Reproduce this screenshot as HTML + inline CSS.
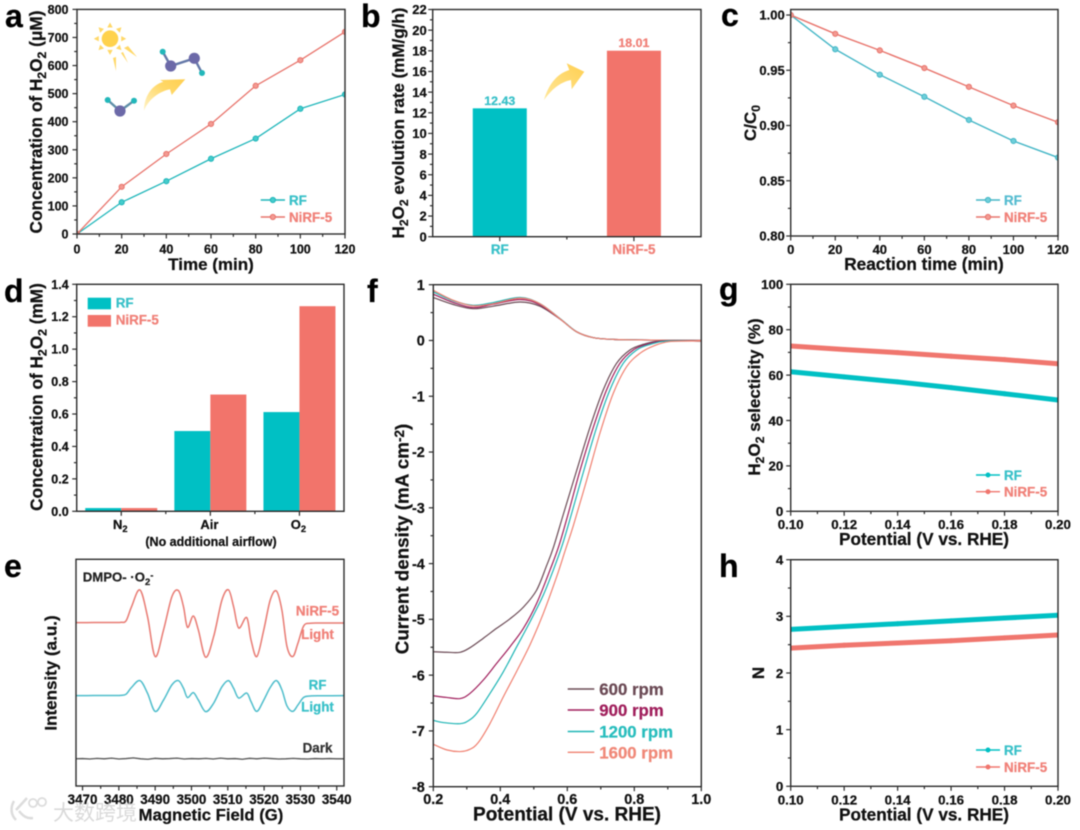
<!DOCTYPE html>
<html lang="en">
<head>
<meta charset="utf-8">
<title>H2O2 photocatalysis multi-panel figure</title>
<style>
html,body{margin:0;padding:0;background:#fff;width:1080px;height:830px;overflow:hidden}
svg{display:block;filter:blur(0.4px)}
text{font-family:"Liberation Sans","Noto Sans CJK SC",sans-serif;font-weight:700;white-space:pre}
</style>
</head>
<body>
<svg id="fig" xmlns="http://www.w3.org/2000/svg" width="1080" height="830" viewBox="0 0 1080 830">
  <defs>
    <linearGradient id="arrow-fade-a" x1="0" y1="1" x2="1" y2="0">
      <stop offset="0" stop-color="#FFF3C8"/><stop offset="0.6" stop-color="#FFD868"/><stop offset="1" stop-color="#FFCF50"/>
    </linearGradient>
    <linearGradient id="arrow-fade-b" x1="0" y1="1" x2="1" y2="0">
      <stop offset="0" stop-color="#FFE79A"/><stop offset="1" stop-color="#FFCF50"/>
    </linearGradient>
  </defs>
</svg>
<script>
/* ---------- panel a ---------- */
const timeMin = [0, 20, 40, 60, 80, 100, 120];
const aRF = [0, 113, 188, 268, 340, 446, 497];
const aNiRF = [0, 168, 285, 392, 528, 619, 720];
const aXTicks = [0, 20, 40, 60, 80, 100, 120];
const aYTicks = [0, 100, 200, 300, 400, 500, 600, 700, 800];
/* ---------- panel b ---------- */
const bCategories = ['RF', 'NiRF-5'];
const bValues = [12.43, 18.01];
const bYTicks = [0, 2, 4, 6, 8, 10, 12, 14, 16, 18, 20, 22];
/* ---------- panel c ---------- */
const cRF = [1, 0.969, 0.946, 0.926, 0.905, 0.886, 0.871];
const cNiRF = [1, 0.983, 0.968, 0.952, 0.935, 0.918, 0.903];
const cYTicks = [0.80, 0.85, 0.90, 0.95, 1.00];
/* ---------- panel d ---------- */
const dCategories = ['N', 'Air', 'O'];
const dRF = [0.02, 0.495, 0.612];
const dNiRF = [0.02, 0.72, 1.265];
const dYTicks = [0, 0.2, 0.4, 0.6, 0.8, 1.0, 1.2, 1.4];
/* ---------- panel e ---------- */
const eField = [3468.2, 3473, 3478, 3480.5, 3482, 3483.5, 3485.8, 3487.9, 3490, 3492.3, 3494.6, 3496.4, 3497.8, 3498.9, 3500.5, 3501.9, 3503.9, 3506.1, 3508.4, 3510.2, 3511.6, 3513, 3515.2, 3516.4, 3518, 3519.9, 3521.7, 3523.4, 3524.9, 3526.3, 3527.9, 3529.3, 3530.9, 3532.7, 3536, 3542];
const eNiRF = [72.06, 72.1, 72.1, 72.2, 72.9, 79.1, 86.5, 74.7, 57.1, 68.8, 83.5, 86.2, 79.1, 70, 75, 68.8, 56.8, 65.9, 82.1, 86.5, 79.1, 69.7, 74.3, 64.4, 57.1, 68.8, 82.1, 86, 77.6, 61.5, 57.1, 62.9, 70.6, 71.8, 71.9, 71.9];
const eRF = [39.85, 39.9, 39.9, 40, 40.5, 43.5, 46.5, 40.9, 32.9, 37.9, 44.6, 46.5, 43.1, 39, 41.2, 37.9, 32.8, 36.5, 43.8, 46.5, 43.1, 38.8, 41, 37.2, 32.9, 37.9, 43.5, 46.5, 42.4, 35.3, 32.9, 35.7, 39.1, 39.7, 39.8, 39.85];
const eDarkField = [3468, 3470, 3472, 3474, 3476, 3478, 3480, 3482, 3484, 3486, 3488, 3490, 3492, 3494, 3496, 3498, 3500, 3502, 3504, 3506, 3508, 3510, 3512, 3514, 3516, 3518, 3520, 3522, 3524, 3526, 3528, 3530, 3532, 3534, 3536, 3538, 3540, 3542];
const eDark = [12.0, 12.1, 11.9, 12.2, 12.0, 12.3, 11.9, 12.1, 12.4, 12.0, 11.8, 12.2, 12.0, 12.1, 12.3, 11.9, 12.1, 12.0, 12.2, 11.9, 12.3, 12.0, 12.1, 11.8, 12.2, 12.0, 12.3, 12.1, 11.9, 12.0, 12.2, 12.0, 11.9, 12.1, 12.0, 12.1, 12.0, 12.0];
const eXTicks = [3470, 3480, 3490, 3500, 3510, 3520, 3530, 3540];
/* ---------- panel f ---------- */
const fDiskV600 = [0.2, 0.24, 0.28, 0.309, 0.349, 0.389, 0.429, 0.469, 0.508, 0.538, 0.558, 0.588, 0.628, 0.668, 0.707, 0.747, 0.787, 0.827, 0.877, 1];
const fDisk600 = [-5.58, -5.59, -5.59, -5.51, -5.34, -5.16, -4.99, -4.78, -4.48, -4.04, -3.72, -3.12, -2.33, -1.55, -0.89, -0.41, -0.17, -0.07, -0.01, -0.01];
const fDiskV900 = [0.2, 0.24, 0.28, 0.309, 0.349, 0.389, 0.429, 0.469, 0.508, 0.548, 0.575, 0.603, 0.638, 0.678, 0.717, 0.757, 0.797, 0.837, 0.887, 1];
const fDisk900 = [-6.37, -6.40, -6.42, -6.33, -6.09, -5.79, -5.49, -5.16, -4.72, -4.12, -3.68, -3.10, -2.33, -1.55, -0.89, -0.41, -0.17, -0.07, -0.01, -0.01];
const fDiskV1200 = [0.2, 0.23, 0.28, 0.304, 0.329, 0.369, 0.409, 0.449, 0.489, 0.528, 0.558, 0.586, 0.613, 0.648, 0.688, 0.727, 0.767, 0.807, 0.847, 0.897, 1];
const fDisk1200 = [-6.81, -6.85, -6.87, -6.82, -6.69, -6.33, -5.94, -5.49, -5.04, -4.57, -4.12, -3.65, -3.10, -2.36, -1.55, -0.89, -0.41, -0.17, -0.07, -0.01, -0.01];
const fDiskV1600 = [0.2, 0.24, 0.28, 0.309, 0.334, 0.369, 0.409, 0.449, 0.489, 0.528, 0.568, 0.594, 0.618, 0.658, 0.698, 0.737, 0.777, 0.817, 0.857, 0.906, 1];
const fDisk1600 = [-7.24, -7.34, -7.37, -7.33, -7.21, -6.87, -6.39, -5.93, -5.45, -4.90, -4.24, -3.76, -3.32, -2.50, -1.65, -0.95, -0.47, -0.23, -0.10, -0.02, -0.01];
const fRingV = [0.2, 0.26, 0.319, 0.379, 0.459, 0.518, 0.578, 0.628, 0.678, 0.737, 0.82, 0.9, 1];
const fRing600 = [0.77, 0.645, 0.57, 0.615, 0.69, 0.615, 0.385, 0.155, 0.05, 0.02, 0.01, 0.004, 0];
const fRing900 = [0.83, 0.68, 0.59, 0.65, 0.735, 0.64, 0.39, 0.155, 0.05, 0.02, 0.01, 0.004, 0];
const fRing1200 = [0.87, 0.71, 0.63, 0.68, 0.77, 0.66, 0.395, 0.155, 0.05, 0.02, 0.01, 0.004, 0];
const fRing1600 = [0.90, 0.72, 0.62, 0.66, 0.76, 0.66, 0.39, 0.155, 0.05, 0.02, 0.01, 0.004, 0];
const fXTicks = [0.2, 0.4, 0.6, 0.8, 1.0];
const fYTicks = [-8, -7, -6, -5, -4, -3, -2, -1, 0, 1];
/* ---------- panels g, h ---------- */
const potential = [0.10, 0.12, 0.14, 0.16, 0.18, 0.20];
const gRF = [61.5, 59.2, 57, 54.5, 51.8, 49];
const gNiRF = [72.8, 71.3, 69.9, 68.3, 66.8, 65];
const hRF = [2.77, 2.82, 2.87, 2.92, 2.97, 3.02];
const hNiRF = [2.44, 2.49, 2.53, 2.57, 2.62, 2.67];
const ghXTicks = [0.10, 0.12, 0.14, 0.16, 0.18, 0.20];
const gYTicks = [0, 20, 40, 60, 80, 100];
const hYTicks = [0, 1, 2, 3, 4];

const TEAL = '#00C0C4', CORAL = '#F2746B', TEAL_TXT = '#38C0C8', CORAL_TXT = '#F08078';
const svg = document.getElementById('fig');
const NS = 'http://www.w3.org/2000/svg';
let clipCount = 0;

function el(tag, parent, name, attrs) {
  const node = document.createElementNS(NS, tag);
  
  
  for (const k in attrs) { node.setAttribute(k, attrs[k]); }
  parent.appendChild(node);
  return node;
}
function linear(d0, d1, r0, r1) { return v => r0 + (v - d0) * (r1 - r0) / (d1 - d0); }

/* segs: [text, level] where level 1 = subscript, -1 = superscript */
function rich(parent, name, x, y, segs, size, opts) {
  opts = opts || {};
  const attrs = { x: x, y: y, 'font-size': size, fill: opts.fill || '#111', 'text-anchor': opts.anchor || 'middle' };
  if (opts.rot) { attrs.transform = 'rotate(-90 ' + x + ' ' + y + ')'; }
  const t = el('text', parent, name, attrs);
  let prev = 0;
  segs.forEach(s => {
    const lvl = s[1] || 0;
    const sp = document.createElementNS(NS, 'tspan');
    sp.textContent = s[0];
    const shift = lvl * size * 0.24;
    sp.setAttribute('dy', (shift - prev).toFixed(2));
    sp.setAttribute('font-size', lvl ? size * 0.72 : size);
    prev = shift;
    t.appendChild(sp);
  });
  return t;
}

function frame(c) {
  const g = el('g', svg, c.id, {});
  const x = linear(c.xd[0], c.xd[1], c.l, c.r);
  const y = linear(c.yd[0], c.yd[1], c.b, c.t);
  const stroke = '#2b2b2b';
  function tick(x1, y1, x2, y2, nm) {
    el('line', g, nm, { x1: x1, y1: y1, x2: x2, y2: y2, stroke: stroke, 'stroke-width': 1.2 });
  }
  (c.xt || []).forEach((v, i) => {
    tick(x(v), c.b, x(v), c.b + 4.5, 'x-major-tick');
    el('text', g, 'x-tick-label', { x: x(v), y: c.b + c.xlo, 'font-size': c.fs, fill: '#111', 'text-anchor': 'middle' }).textContent = c.xf(v);
    if (i < c.xt.length - 1) { const m = (v + c.xt[i + 1]) / 2; tick(x(m), c.b, x(m), c.b + 2.8, 'x-minor-tick'); }
  });
  (c.yt || []).forEach((v, i) => {
    tick(c.l, y(v), c.l - 4.5, y(v), 'y-major-tick');
    el('text', g, 'y-tick-label', { x: c.l - c.ylo, y: y(v) + c.fs * 0.36, 'font-size': c.fs, fill: '#111', 'text-anchor': 'end' }).textContent = c.yf(v);
    if (i < c.yt.length - 1) { const m = (v + c.yt[i + 1]) / 2; tick(c.l, y(m), c.l - 2.8, y(m), 'y-minor-tick'); }
  });
  const cid = 'clip-' + (++clipCount);
  const cp = el('clipPath', g, 'plot-clip', { id: cid });
  el('rect', cp, 'plot-clip-rect', { x: c.l, y: c.t, width: c.r - c.l, height: c.b - c.t });
  const plot = el('g', g, 'plot-area', { 'clip-path': 'url(#' + cid + ')' });
  const border = () => el('rect', g, 'plot-frame', { x: c.l, y: c.t, width: c.r - c.l, height: c.b - c.t, fill: 'none', stroke: stroke, 'stroke-width': 1.4 });
  return { g, plot, x, y, border };
}

function pathLine(xs, ys, x, y) { return xs.map((v, i) => (i ? 'L' : 'M') + x(v).toFixed(2) + ',' + y(ys[i]).toFixed(2)).join(''); }
function pathCurve(xs, ys, x, y) {
  const p = xs.map((v, i) => [x(v), y(ys[i])]);
  let d = 'M' + p[0][0].toFixed(2) + ',' + p[0][1].toFixed(2);
  for (let i = 0; i < p.length - 1; i++) {
    const a = p[Math.max(i - 1, 0)], b = p[i], c = p[i + 1], e = p[Math.min(i + 2, p.length - 1)];
    const c1x = b[0] + (c[0] - a[0]) / 6, c1y = b[1] + (c[1] - a[1]) / 6;
    const c2x = c[0] - (e[0] - b[0]) / 6, c2y = c[1] - (e[1] - b[1]) / 6;
    d += 'C' + c1x.toFixed(2) + ',' + c1y.toFixed(2) + ' ' + c2x.toFixed(2) + ',' + c2y.toFixed(2) + ' ' + c[0].toFixed(2) + ',' + c[1].toFixed(2);
  }
  return d;
}
function lineSeries(F, name, xs, ys, color, width, r, mFill) {
  const g = el('g', F.plot, name + '-series', {});
  el('path', g, name + '-line', { d: pathLine(xs, ys, F.x, F.y), fill: 'none', stroke: color, 'stroke-width': width, 'stroke-linejoin': 'round' });
  xs.forEach((v, i) => {
    el('circle', g, name + '-point', { cx: F.x(v), cy: F.y(ys[i]), r: r, fill: mFill || color, stroke: color, 'stroke-width': 1 });
  });
}
function curveSeries(F, name, xs, ys, color, width) {
  el('path', F.plot, name, { d: pathCurve(xs, ys, F.x, F.y), fill: 'none', stroke: color, 'stroke-width': width, 'stroke-linejoin': 'round' });
}
function legendLine(parent, name, x1, x2, tx, ly, label, lineColor, txtColor, fs, mr, mFill) {
  const g = el('g', parent, 'legend-entry-' + name, {});
  el('line', g, 'legend-line', { x1: x1, y1: ly, x2: x2, y2: ly, stroke: lineColor, 'stroke-width': 1.4 });
  if (mr) { el('circle', g, 'legend-marker', { cx: (x1 + x2) / 2, cy: ly, r: mr, fill: mFill || lineColor, stroke: lineColor, 'stroke-width': 1 }); }
  el('text', g, 'legend-label', { x: tx, y: ly + fs * 0.36, 'font-size': fs, fill: txtColor }).textContent = label;
}
function letter(s, x, y) {
  el('text', svg, 'panel-label-' + s, { x: x, y: y, 'font-size': 32, fill: '#000' }).textContent = s;
}
const int0 = v => String(v);
const f1 = v => v.toFixed(1);
const f2 = v => v.toFixed(2);

/* ===== panel a ===== */
(function () {
  const F = frame({ id: 'panel-a', l: 77, r: 345, t: 9.4, b: 234, xd: [0, 120], yd: [0, 800], xt: aXTicks, yt: aYTicks, xf: int0, yf: int0, fs: 12.5, xlo: 19.5, ylo: 8.5 });
  const art = el('g', F.g, 'reaction-illustration', {});
  const sun = el('g', art, 'sun-icon', {});
  el('circle', sun, 'sun-disc', { cx: 110, cy: 38.7, r: 8.3, fill: '#FFD24D' });
  for (let k = 0; k < 8; k++) {
    el('polygon', sun, 'sun-ray', { points: '107.3,27.5 112.7,27.5 110,22.5', fill: '#FFD868', transform: 'rotate(' + (k * 45) + ' 110 38.7)' });
  }
  el('path', sun, 'sun-streaks', { d: 'M124,48 L137,57 L128,46Z M121,53 L128,63 L123,52Z M113,58 L116,71 L116,57Z', fill: '#FFD868' });
  const mol1 = el('g', art, 'water-molecule', {});
  el('path', mol1, 'water-bonds', { d: 'M107.7,100 L120,111 L134,100.7', fill: 'none', stroke: '#5F8FA8', 'stroke-width': 2.4 });
  el('circle', mol1, 'oxygen-atom', { cx: 120, cy: 111, r: 5.6, fill: '#6C69A8' });
  el('circle', mol1, 'hydrogen-atom', { cx: 107.7, cy: 100, r: 3, fill: '#22B7BA' });
  el('circle', mol1, 'hydrogen-atom', { cx: 134, cy: 100.7, r: 3, fill: '#22B7BA' });
  const mol2 = el('g', art, 'hydrogen-peroxide-molecule', {});
  el('path', mol2, 'peroxide-bonds', { d: 'M162.7,51.7 L170.7,66 L194.3,58.3 L202,73', fill: 'none', stroke: '#6478A8', 'stroke-width': 2.4 });
  el('circle', mol2, 'oxygen-atom', { cx: 170.7, cy: 66, r: 5.6, fill: '#6C69A8' });
  el('circle', mol2, 'oxygen-atom', { cx: 194.3, cy: 58.3, r: 5.6, fill: '#6C69A8' });
  el('circle', mol2, 'hydrogen-atom', { cx: 162.7, cy: 51.7, r: 3, fill: '#22B7BA' });
  el('circle', mol2, 'hydrogen-atom', { cx: 202, cy: 73, r: 3, fill: '#22B7BA' });
  el('path', art, 'reaction-arrow', { d: 'M144,110.7 C144,96.7 151.7,85 163.3,81.7 L160,80 L185.3,79.3 L171.7,95 L170,89.3 C158.3,91.7 148.3,100 144,110.7Z', fill: 'url(#arrow-fade-a)' });
  lineSeries(F, 'rf', timeMin, aRF, '#1FB6BA', 1.3, 2.6, '#45CCCC');
  lineSeries(F, 'nirf-5', timeMin, aNiRF, '#E8746C', 1.3, 2.6, '#F39A92');
  F.border();
  legendLine(F.g, 'rf', 260.7, 285, 289, 200, 'RF', '#1FB6BA', TEAL_TXT, 13.4, 2.6, '#45CCCC');
  legendLine(F.g, 'nirf-5', 260.7, 285, 289, 217, 'NiRF-5', '#E8746C', CORAL_TXT, 13.4, 2.6, '#F39A92');
  rich(F.g, 'x-axis-title', 211, 270, [['Time (min)']], 17);
  rich(F.g, 'y-axis-title', 42, 122, [['Concentration of H'], ['2', 1], ['O'], ['2', 1], [' (μM)']], 17.2, { rot: 1 });
})();

/* ===== panel b ===== */
(function () {
  const F = frame({ id: 'panel-b', l: 432.7, r: 701, t: 9.5, b: 236.7, xd: [0, 2], yd: [0, 22], xt: [], yt: bYTicks, xf: int0, yf: int0, fs: 13, xlo: 18, ylo: 6 });
  const cols = [TEAL, CORAL], txt = [TEAL_TXT, CORAL_TXT];
  bCategories.forEach((cat, i) => {
    const cx = F.x(i + 0.5), w = 54, top = F.y(bValues[i]);
    el('rect', F.plot, 'bar-' + cat.toLowerCase(), { x: cx - w / 2, y: top, width: w, height: F.y(0) - top, fill: cols[i] });
    el('text', F.g, 'bar-value-' + cat.toLowerCase(), { x: cx, y: top - 3.5, 'font-size': 12.4, fill: txt[i], 'text-anchor': 'middle' }).textContent = bValues[i].toFixed(2);
    el('text', F.g, 'category-label-' + cat.toLowerCase(), { x: cx, y: 254, 'font-size': 13.4, fill: txt[i], 'text-anchor': 'middle' }).textContent = cat;
    el('line', F.g, 'x-major-tick', { x1: cx, y1: F.y(0), x2: cx, y2: F.y(0) + 4.5, stroke: '#2b2b2b', 'stroke-width': 1.2 });
  });
  el('line', F.g, 'x-minor-tick', { x1: F.x(1), y1: F.y(0), x2: F.x(1), y2: F.y(0) + 2.8, stroke: '#2b2b2b', 'stroke-width': 1.2 });
  el('path', F.g, 'increase-arrow', { d: 'M544,100 C548,86 556,74 569.3,70 L566.7,63.3 L584.3,71.7 L571.7,89.3 L571,80 C560,82 551,90 544,100Z', fill: 'url(#arrow-fade-b)' });
  F.border();
  rich(F.g, 'y-axis-title', 404, 123, [['H'], ['2', 1], ['O'], ['2', 1], [' evolution rate (mM/g/h)']], 17, { rot: 1 });
})();

/* ===== panel c ===== */
(function () {
  const F = frame({ id: 'panel-c', l: 790.7, r: 1058, t: 9.5, b: 236, xd: [0, 120], yd: [0.8, 1.005], xt: aXTicks, yt: cYTicks, xf: int0, yf: f2, fs: 13, xlo: 18, ylo: 6 });
  lineSeries(F, 'rf', timeMin, cRF, '#44B6C6', 1.4, 2.6, '#6FCFDA');
  lineSeries(F, 'nirf-5', timeMin, cNiRF, '#E8746C', 1.4, 2.6, '#F39A92');
  F.border();
  legendLine(F.g, 'rf', 976, 1000, 1004, 200, 'RF', '#44B6C6', '#55BCD0', 13.4, 2.6, '#6FCFDA');
  legendLine(F.g, 'nirf-5', 976, 1000, 1004, 217, 'NiRF-5', '#E8746C', CORAL_TXT, 13.4, 2.6, '#F39A92');
  rich(F.g, 'x-axis-title', 924, 270, [['Reaction time (min)']], 17.2);
  rich(F.g, 'y-axis-title', 756, 123, [['C/C'], ['0', 1]], 17, { rot: 1 });
})();

/* ===== panel d ===== */
(function () {
  const F = frame({ id: 'panel-d', l: 76.7, r: 344, t: 284.3, b: 511.3, xd: [0, 3], yd: [0, 1.4], xt: [], yt: dYTicks, xf: int0, yf: f1, fs: 12.5, xlo: 18, ylo: 8 });
  dCategories.forEach((cat, i) => {
    const cx = F.x(i + 0.5), w = 36;
    const r = F.y(dRF[i]), n = F.y(dNiRF[i]);
    el('rect', F.plot, 'bar-rf-' + cat.toLowerCase(), { x: cx - w, y: r, width: w, height: F.y(0) - r, fill: TEAL });
    el('rect', F.plot, 'bar-nirf-5-' + cat.toLowerCase(), { x: cx, y: n, width: w, height: F.y(0) - n, fill: CORAL });
    el('line', F.g, 'x-major-tick', { x1: cx, y1: F.y(0), x2: cx, y2: F.y(0) + 4.5, stroke: '#2b2b2b', 'stroke-width': 1.2 });
    if (i) { el('line', F.g, 'x-minor-tick', { x1: F.x(i), y1: F.y(0), x2: F.x(i), y2: F.y(0) + 2.8, stroke: '#2b2b2b', 'stroke-width': 1.2 }); }
    const segs = cat === 'Air' ? [[cat]] : [[cat], ['2', 1]];
    rich(F.g, 'category-label-' + cat.toLowerCase(), cx - 1, 529, segs, 13);
  });
  F.border();
  el('rect', F.g, 'legend-swatch-rf', { x: 87.7, y: 297.7, width: 23.3, height: 11.6, fill: TEAL });
  el('rect', F.g, 'legend-swatch-nirf-5', { x: 87.7, y: 315, width: 23.3, height: 11.7, fill: CORAL });
  el('text', F.g, 'legend-label-rf', { x: 115.7, y: 307.5, 'font-size': 13.4, fill: TEAL_TXT }).textContent = 'RF';
  el('text', F.g, 'legend-label-nirf-5', { x: 115.7, y: 324.5, 'font-size': 13.4, fill: CORAL_TXT }).textContent = 'NiRF-5';
  el('text', F.g, 'x-axis-note', { x: 211, y: 546, 'font-size': 12.5, fill: '#111', 'text-anchor': 'middle' }).textContent = '(No additional airflow)';
  rich(F.g, 'y-axis-title', 42.5, 397, [['Concentration of H'], ['2', 1], ['O'], ['2', 1], [' (mM)']], 17.2, { rot: 1 });
})();

/* ===== panel e ===== */
(function () {
  const F = frame({ id: 'panel-e', l: 76, r: 344, t: 559.3, b: 786, xd: [3468.2, 3542], yd: [0, 100], xt: eXTicks, yt: [], xf: int0, yf: int0, fs: 13.4, xlo: 18, ylo: 6 });
  curveSeries(F, 'nirf-5-spectrum', eField, eNiRF, '#E87A72', 1.5);
  curveSeries(F, 'rf-spectrum', eField, eRF, '#4DBDCB', 1.5);
  el('path', F.plot, 'dark-spectrum', { d: pathLine(eDarkField, eDark, F.x, F.y), fill: 'none', stroke: '#555', 'stroke-width': 1.3 });
  F.border();
  rich(F.g, 'spin-adduct-label', 82.7, 581.7, [['DMPO- ·O'], ['2', 1], ['-', -1]], 13.2, { anchor: 'start', fill: '#222' });
  const lab = (n, t, y, c) => { el('text', F.g, n, { x: 317.5, y: y, 'font-size': 13.4, fill: c, 'text-anchor': 'middle' }).textContent = t; };
  lab('nirf-5-label', 'NiRF-5', 615.7, CORAL_TXT);
  lab('nirf-5-light-label', 'Light', 639, CORAL_TXT);
  lab('rf-label', 'RF', 689.3, TEAL_TXT);
  lab('rf-light-label', 'Light', 711.7, TEAL_TXT);
  lab('dark-label', 'Dark', 752.7, '#333');
  rich(F.g, 'y-axis-title', 56.5, 673, [['Intensity (a.u.)']], 17, { rot: 1 });
  rich(F.g, 'x-axis-title', 211, 820.7, [['Magnetic Field (G)']], 16.7);
})();

/* ===== panel f ===== */
(function () {
  const F = frame({ id: 'panel-f', l: 433.3, r: 701.3, t: 284.7, b: 786.7, xd: [0.2, 1.0], yd: [-8, 1], xt: fXTicks, yt: fYTicks, xf: f1, yf: int0, fs: 14.4, xlo: 17.5, ylo: 8.5 });
  const C6 = '#6B4A55', C9 = '#A01F5C', C12 = '#1FB5B5', C16 = '#F08070';
  curveSeries(F, 'ring-600-rpm', fRingV, fRing600, C6, 1.2);
  curveSeries(F, 'ring-900-rpm', fRingV, fRing900, C9, 1.2);
  curveSeries(F, 'ring-1200-rpm', fRingV, fRing1200, C12, 1.2);
  curveSeries(F, 'ring-1600-rpm', fRingV, fRing1600, C16, 1.2);
  curveSeries(F, 'disk-600-rpm', fDiskV600, fDisk600, C6, 1.2);
  curveSeries(F, 'disk-900-rpm', fDiskV900, fDisk900, C9, 1.2);
  curveSeries(F, 'disk-1200-rpm', fDiskV1200, fDisk1200, C12, 1.2);
  curveSeries(F, 'disk-1600-rpm', fDiskV1600, fDisk1600, C16, 1.2);
  F.border();
  legendLine(F.g, '600-rpm', 567.7, 594.3, 599.3, 689, '600 rpm', C6, '#6B4A55', 16.8, 0);
  legendLine(F.g, '900-rpm', 567.7, 594.3, 599.3, 710, '900 rpm', C9, '#A01F5C', 16.8, 0);
  legendLine(F.g, '1200-rpm', 567.7, 594.3, 599.3, 731.5, '1200 rpm', C12, '#28BDBD', 16.8, 0);
  legendLine(F.g, '1600-rpm', 567.7, 594.3, 599.3, 752.3, '1600 rpm', C16, '#F08878', 16.8, 0);
  rich(F.g, 'y-axis-title', 408.5, 539, [['Current density (mA cm'], ['-2', -1], [')']], 18.8, { rot: 1 });
  rich(F.g, 'x-axis-title', 567, 820.7, [['Potential (V vs. RHE)']], 19);
})();

/* ===== panel g ===== */
(function () {
  const F = frame({ id: 'panel-g', l: 790.7, r: 1058, t: 284.3, b: 511.3, xd: [0.10, 0.20], yd: [0, 100], xt: ghXTicks, yt: gYTicks, xf: f2, yf: int0, fs: 13.3, xlo: 17.7, ylo: 7.4 });
  lineSeries(F, 'rf', potential, gRF, TEAL, 5, 2, TEAL);
  lineSeries(F, 'nirf-5', potential, gNiRF, '#F0766E', 5, 2, '#F0766E');
  F.border();
  legendLine(F.g, 'rf', 976, 1000, 1004, 475, 'RF', TEAL, TEAL_TXT, 13.4, 2);
  legendLine(F.g, 'nirf-5', 976, 1000, 1004, 491.7, 'NiRF-5', '#F0766E', CORAL_TXT, 13.4, 2);
  rich(F.g, 'y-axis-title', 760, 397, [['H'], ['2', 1], ['O'], ['2', 1], [' selecticity (%)']], 17, { rot: 1 });
  rich(F.g, 'x-axis-title', 924, 545, [['Potential (V vs. RHE)']], 17.2);
})();

/* ===== panel h ===== */
(function () {
  const F = frame({ id: 'panel-h', l: 790.7, r: 1058, t: 559.7, b: 786.3, xd: [0.10, 0.20], yd: [0, 4], xt: ghXTicks, yt: hYTicks, xf: f2, yf: int0, fs: 13.3, xlo: 18, ylo: 7.4 });
  lineSeries(F, 'rf', potential, hRF, TEAL, 5, 2, TEAL);
  lineSeries(F, 'nirf-5', potential, hNiRF, '#F0766E', 5, 2, '#F0766E');
  F.border();
  legendLine(F.g, 'rf', 976, 1000, 1004, 750, 'RF', TEAL, TEAL_TXT, 13.4, 2);
  legendLine(F.g, 'nirf-5', 976, 1000, 1004, 767, 'NiRF-5', '#F0766E', CORAL_TXT, 13.4, 2);
  rich(F.g, 'y-axis-title', 764, 673, [['N']], 17, { rot: 1 });
  rich(F.g, 'x-axis-title', 924, 820.7, [['Potential (V vs. RHE)']], 17.2);
})();

/* ===== panel letters ===== */
letter('a', 5, 27);
letter('b', 361, 27);
letter('c', 721, 26);
letter('d', 4, 302);
letter('e', 4, 577);
letter('f', 367, 302);
letter('g', 719, 300);
letter('h', 719, 577);

/* thicken all labels slightly to match the heavy look of the reference */
svg.querySelectorAll('text').forEach(t => {
  t.setAttribute('stroke', t.getAttribute('fill'));
  t.setAttribute('stroke-width', '0.25');
});

/* ===== watermark ===== */
(function () {
  const w = el('g', svg, 'watermark', { opacity: 0.8 });
  el('path', w, 'watermark-logo', { d: 'M14,801 C10,808 11,815 16,820 M16,810 L27,798 M19,811 C23,816 27,819 33,818', fill: 'none', stroke: '#d4d4d4', 'stroke-width': 2.5 });
  el('circle', w, 'watermark-logo-dot', { cx: 33, cy: 803, r: 4, fill: 'none', stroke: '#d4d4d4', 'stroke-width': 1.8 });
  el('circle', w, 'watermark-logo-dot', { cx: 42, cy: 802, r: 4, fill: 'none', stroke: '#d4d4d4', 'stroke-width': 1.8 });
  el('text', w, 'watermark-text', { x: 53, y: 820, 'font-size': 21, fill: '#d0d0d0', style: 'font-weight:400' }).textContent = '大数跨境';
})();
</script>
</body>
</html>
